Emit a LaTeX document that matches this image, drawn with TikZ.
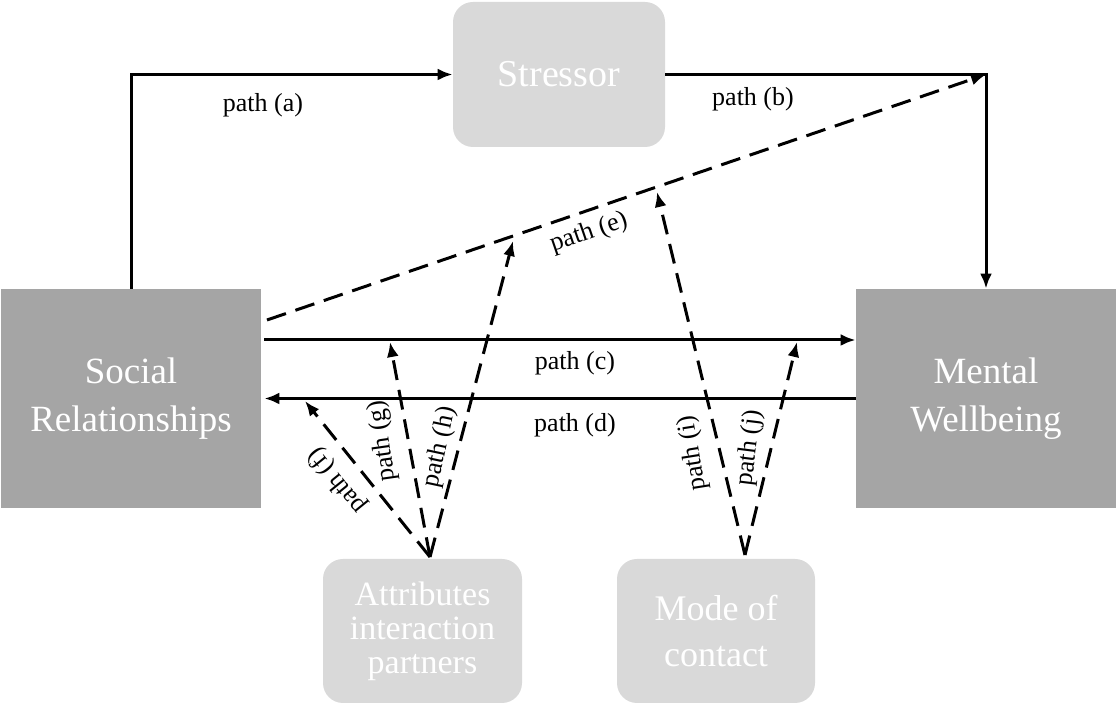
\documentclass[tikz,border=0pt]{standalone}
\usepackage{fontspec}
\setmainfont{Liberation Serif}
\usetikzlibrary{arrows.meta,calc}
\definecolor{boxdark}{HTML}{A5A5A5}
\definecolor{boxlight}{HTML}{D9D9D9}
\begin{document}
\begin{tikzpicture}[x=0.5pt,y=-0.5pt,
  darkbox/.style={fill=boxdark, text=white, inner sep=0pt, align=center,
    minimum width=130pt, minimum height=109.5pt,
    font=\fontsize{18.5}{24}\selectfont},
  lightbox/.style={fill=boxlight, text=white, inner sep=0pt, align=center,
    rounded corners=10pt, font=\fontsize{18}{23}\selectfont},
  conn/.style={line width=1.5pt, -{Latex[length=7.5pt,width=6pt]}},
  dashconn/.style={conn, dash pattern=on 10pt off 5pt},
  lab/.style={font=\fontsize{13}{15}\selectfont, inner sep=1pt},
]
\useasboundingbox (0,0) rectangle (1116,704);

% boxes
\node[darkbox] (soc) at (131,398.5) {Social\\Relationships};
\node[darkbox] (mw) at (986,398.5) {Mental\\Wellbeing};
\node[lightbox, minimum width=106pt, minimum height=72.5pt,
      font=\fontsize{19}{23}\selectfont] (str) at (559,74.5) {Stressor};
\node[lightbox, minimum width=99.5pt, minimum height=72pt,
      font=\fontsize{17}{17}\selectfont] (att) at (422.5,631) {Attributes\\interaction\\partners};
\node[lightbox, minimum width=99pt, minimum height=72pt] (moc) at (716,631) {Mode of\\contact};

% helper coordinates
\coordinate (cy) at (0,340);
\coordinate (e1) at (267,320);
\coordinate (apA) at (430,557);
\coordinate (apB) at (745,555);
\coordinate (tf) at (305,401);
\coordinate (tg) at (390,342);
\coordinate (th) at (513,241);
\coordinate (ti) at (657,192);
\coordinate (tj) at (797,342);

% solid paths
\draw[conn] (soc.north) |- (str.west);
\draw[conn] (str.east) -| coordinate[pos=0.5] (corner) (mw.north);
\draw[conn, shorten <=1.5pt] (soc.east |- cy) -- (mw.west |- cy);
\draw[conn, shorten >=1.5pt] (mw.west) -- (soc.east);

% dashed paths
\draw[dashconn] (e1) -- (corner);
\draw[dashconn] (apA) -- (tf);
\draw[dashconn] (apA) -- (tg);
\draw[dashconn] (apA) -- (th);
\draw[dashconn] (apB) -- (ti);
\draw[dashconn] (apB) -- (tj);

% labels
\node[lab] (la) at (263,105) {path (a)};
\node[lab] (lb) at (753,99) {path (b)};
\node[lab] (lc) at (575,363) {path (c)};
\node[lab] (ld) at (575,425) {path (d)};
\node[lab, rotate=19] (le) at (589,233) {path (e)};
\node[lab, rotate=129] (lf) at (337,481) {path (f)};
\node[lab, rotate=98] (lg) at (383,441) {path (g)};
\node[lab, rotate=78] (lh) at (440,447) {path (h)};
\node[lab, rotate=99] (li) at (693,453) {path (i)};
\node[lab, rotate=83] (lj) at (750,448) {path (j)};
\end{tikzpicture}
\end{document}
